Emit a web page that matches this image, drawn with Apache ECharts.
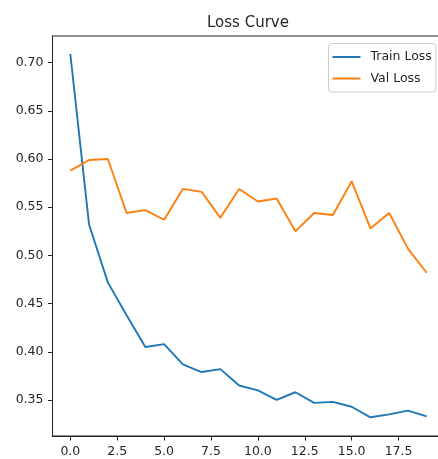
<!DOCTYPE html>
<html>
<head>
<meta charset="utf-8">
<script src="https://cdn.jsdelivr.net/npm/echarts@6/dist/echarts.min.js"></script>
<style>
html,body{margin:0;padding:0;background:#fff;}
#chart{width:438px;height:459px;}
</style>
</head>
<body>
<div id="chart"></div>
<script>
var epochs = [0,1,2,3,4,5,6,7,8,9,10,11,12,13,14,15,16,17,18,19];
var trainLoss = [0.709,0.532,0.472,0.438,0.405,0.408,0.387,0.379,0.382,0.365,0.360,0.350,0.358,0.347,0.348,0.343,0.332,0.335,0.339,0.333];
var valLoss = [0.588,0.599,0.600,0.544,0.547,0.537,0.569,0.566,0.539,0.569,0.556,0.559,0.525,0.544,0.542,0.577,0.528,0.544,0.507,0.482];
var xTicks = [0,2.5,5,7.5,10,12.5,15,17.5];
var yTicks = [0.35,0.40,0.45,0.50,0.55,0.60,0.65,0.70];
var seriesNames = ['Train Loss','Val Loss'];
var titleText = 'Loss Curve';

function pairs(xs, ys){ return xs.map(function(x,i){ return [x, ys[i]]; }); }

var font = 'DejaVu Sans';
var chart = echarts.init(document.getElementById('chart'), null, {renderer:'canvas'});
chart.setOption({
  animation:false,
  backgroundColor:'#ffffff',
  textStyle:{fontFamily:font},
  title:{
    text:titleText,
    left:207, top:15.5, padding:0,
    textStyle:{fontFamily:font, fontSize:15, fontWeight:'normal', color:'#262626'}
  },
  legend:{
    orient:'vertical',
    left:328.5, top:43.5,
    padding:[7,4,7,4],
    itemGap:8.5,
    itemWidth:28, itemHeight:2,
    icon:'rect',
    backgroundColor:'rgba(255,255,255,0.8)',
    borderColor:'#cccccc', borderWidth:1, borderRadius:3,
    textStyle:{fontFamily:font, fontSize:12.5, color:'#262626', padding:[0,0,0,5]},
    data:seriesNames
  },
  grid:{
    left:52.5, top:36, width:392, height:400,
    show:true, borderColor:'#222', borderWidth:1, backgroundColor:'transparent',
    outerBoundsMode:'none', containLabel:false
  },
  xAxis:{
    type:'value', min:-0.95, max:19.95,
    axisLine:{show:true, onZero:false, lineStyle:{color:'#222', width:1}},
    axisTick:{show:true, length:4.5, customValues:xTicks, lineStyle:{color:'#222', width:1}},
    axisLabel:{show:true, margin:9.5, customValues:xTicks, fontFamily:font, fontSize:12.5, color:'#262626',
      formatter:function(v){ return v.toFixed(1); }},
    splitLine:{show:false}
  },
  yAxis:{
    type:'value', min:0.3126, max:0.7277,
    axisLine:{show:true, onZero:false, lineStyle:{color:'#222', width:1}},
    axisTick:{show:true, length:4.5, customValues:yTicks, lineStyle:{color:'#222', width:1}},
    axisLabel:{show:true, margin:9, customValues:yTicks, fontFamily:font, fontSize:12.5, color:'#262626',
      formatter:function(v){ return v.toFixed(2); }},
    splitLine:{show:false}
  },
  series:[
    {name:seriesNames[0], type:'line', data:pairs(epochs, trainLoss), showSymbol:false, symbol:'none',
      itemStyle:{color:'#1f77b4'}, lineStyle:{color:'#1f77b4', width:1.9}},
    {name:seriesNames[1], type:'line', data:pairs(epochs, valLoss), showSymbol:false, symbol:'none',
      itemStyle:{color:'#ff7f0e'}, lineStyle:{color:'#ff7f0e', width:1.9}}
  ]
});
</script>
</body>
</html>
